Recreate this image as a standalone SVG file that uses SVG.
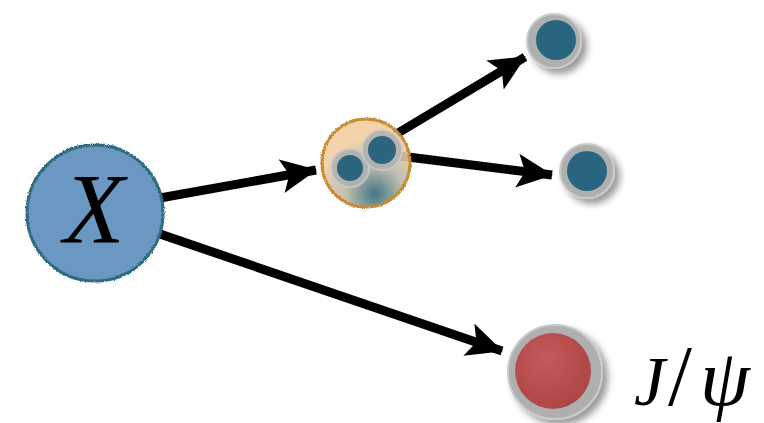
<svg xmlns="http://www.w3.org/2000/svg" width="764" height="423" viewBox="0 0 764 423">
<defs>
<style>
.arrow{stroke:#000;stroke-width:9;fill:none;marker-end:url(#head)}
.ring{fill:#aeb0b0;stroke:#c9cbcb;stroke-width:2}
.blue{fill:#2c6580}
.lbl{font-family:"Liberation Serif","DejaVu Serif",serif;font-style:italic;fill:#000}
</style>
<marker id="head" viewBox="0 0 36 34" refX="35" refY="17" markerWidth="36" markerHeight="34" markerUnits="userSpaceOnUse" orient="auto">
<path d="M0,0 L36,17 L0,34 L8,17 Z" fill="#000"/>
</marker>
<filter id="rough" x="-10%" y="-10%" width="120%" height="120%">
<feTurbulence type="fractalNoise" baseFrequency="0.9" numOctaves="2" seed="3"/>
<feDisplacementMap in="SourceGraphic" scale="3" xChannelSelector="R" yChannelSelector="G"/>
</filter>
<filter id="shadow" x="-30%" y="-30%" width="170%" height="170%">
<feDropShadow dx="5" dy="5" stdDeviation="3.5" flood-color="#000" flood-opacity="0.4"/>
</filter>
<radialGradient id="orangeFill" cx="0.6" cy="0.85" r="0.65">
<stop offset="0" stop-color="#2f6678"/>
<stop offset="0.5" stop-color="#b9b8a6"/>
<stop offset="1" stop-color="#f2cfa2"/>
</radialGradient>
<radialGradient id="redFill" cx="0.4" cy="0.35" r="0.7">
<stop offset="0" stop-color="#c45a5a"/>
<stop offset="1" stop-color="#ad4444"/>
</radialGradient>
</defs>
<rect width="764" height="423" fill="#fff"/>
<g id="connectors">
<line class="arrow" x1="160" y1="198" x2="316" y2="170"/>
<line class="arrow" x1="398" y1="133" x2="525" y2="57"/>
<line class="arrow" x1="400" y1="156" x2="552" y2="175"/>
<line class="arrow" x1="160" y1="234" x2="502" y2="351"/>
</g>
<g id="X">
<circle cx="95" cy="213" r="68" fill="#6a98c2" stroke="#2f6a80" stroke-width="3" filter="url(#rough)"/>
<text class="lbl" x="94" y="242" font-size="100" text-anchor="middle">X</text>
</g>
<g id="intermediate">
<circle cx="366" cy="163" r="44" fill="url(#orangeFill)" fill-opacity="0.9" stroke="#c88a30" stroke-width="3" filter="url(#rough)"/>
<circle cx="350" cy="168" r="19" class="ring" opacity="0.85"/>
<circle cx="350" cy="168" r="13" class="blue"/>
<circle cx="382" cy="150" r="20" class="ring" opacity="0.85"/>
<circle cx="382" cy="150" r="14" class="blue"/>
</g>
<g id="top-product" filter="url(#shadow)">
<circle cx="554" cy="41" r="27" class="ring"/>
<circle cx="556" cy="40" r="20" class="blue"/>
</g>
<g id="mid-product" filter="url(#shadow)">
<circle cx="587" cy="171" r="27" class="ring"/>
<circle cx="587" cy="171" r="20" class="blue"/>
</g>
<g id="jpsi">
<g filter="url(#shadow)">
<circle cx="555" cy="372" r="47" class="ring"/>
<circle cx="553" cy="371" r="38" fill="url(#redFill)"/>
</g>
<text class="lbl" y="405" font-size="70"><tspan x="634">J</tspan><tspan x="668" font-style="normal" font-size="86">/</tspan><tspan x="700" font-size="80">ψ</tspan></text>
</g>
</svg>
